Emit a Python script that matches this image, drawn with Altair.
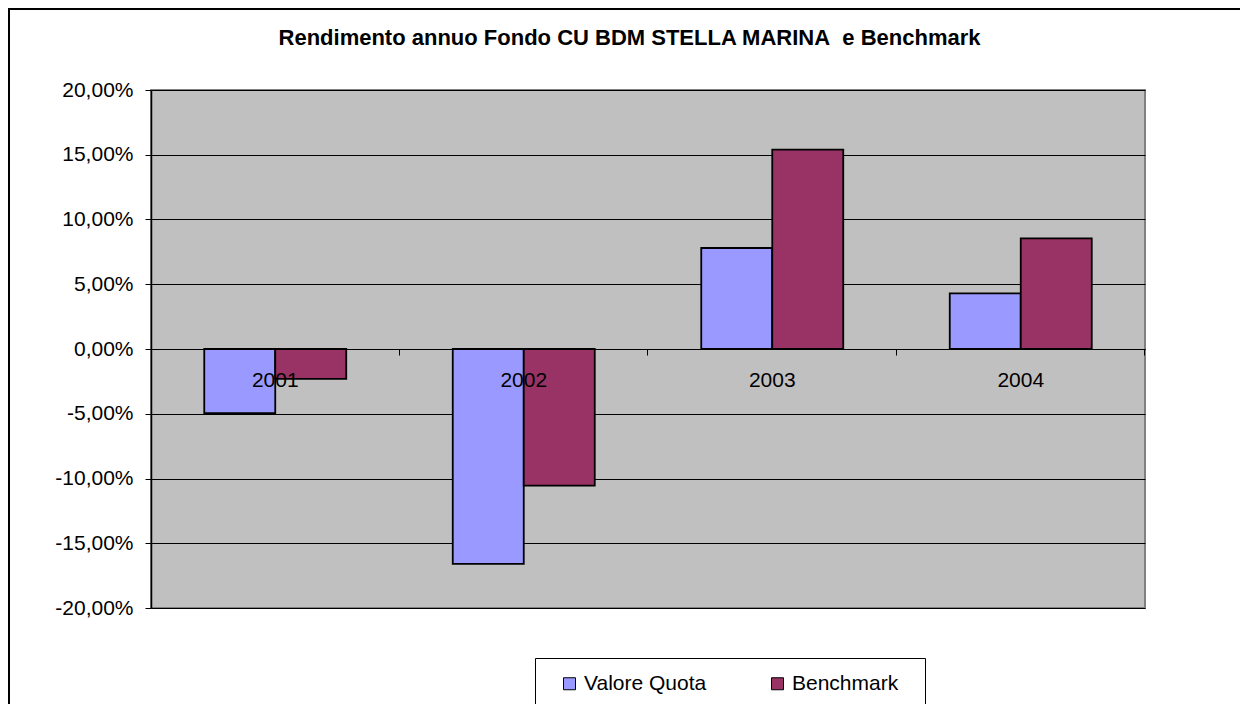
import altair as alt
import pandas as pd

# ---- data ----
years = ["2001", "2002", "2003", "2004"]
series = ["Valore Quota", "Benchmark"]
valore = [-0.0496, -0.166, 0.078, 0.043]
benchmark = [-0.023, -0.1055, 0.154, 0.0855]
colors = ["#9999FF", "#993366"]
y_ticks = [-0.20, -0.15, -0.10, -0.05, 0.0, 0.05, 0.10, 0.15, 0.20]
title_text = "Rendimento annuo Fondo CU BDM STELLA MARINA\u00a0 e Benchmark"

rows = []
for i, yr in enumerate(years):
    rows.append({"year": yr, "serie": series[0], "value": valore[i]})
    rows.append({"year": yr, "serie": series[1], "value": benchmark[i]})
df = pd.DataFrame(rows)

W, H = 994, 518
FONT = "Liberation Sans"
ylabel = "replace(replace(format(datum.value, '.2%'), '.', ','), '\u2212', '-')"

deco = pd.DataFrame({"k": [0]})

frame = alt.Chart(deco).mark_rect(filled=False, stroke="#000000", strokeWidth=2).encode(
    x=alt.value(-142), x2=alt.value(W + 300), y=alt.value(-81), y2=alt.value(H + 300)
)

legend_box = alt.Chart(deco).mark_rect(fill="#FFFFFF", stroke="#000000", strokeWidth=1).encode(
    x=alt.value(384.5), x2=alt.value(774.5), y=alt.value(568.5), y2=alt.value(H + 300)
)

bars = alt.Chart(df).mark_bar(stroke="black", strokeWidth=1.8, opacity=1).encode(
    x=alt.X(
        "year:N", sort=years,
        scale=alt.Scale(paddingInner=0.4286, paddingOuter=0.2143),
        axis=alt.Axis(
            title=None, orient="bottom", offset=-259, domain=True, domainColor="black",
            domainWidth=1, ticks=True, tickColor="black", tickSize=6, tickWidth=1,
            bandPosition=1.375, labelOffset=0, labelAngle=0, labelFont=FONT,
            labelFontSize=21, labelColor="black", labelPadding=14, labelBaseline="top",
            zindex=1, grid=False,
        ),
    ),
    xOffset=alt.XOffset("serie:N", sort=series, scale=alt.Scale(paddingInner=0, paddingOuter=0)),
    y=alt.Y(
        "value:Q",
        scale=alt.Scale(domain=[-0.2, 0.2], nice=False, zero=False),
        axis=alt.Axis(
            title=None, values=y_ticks, labelExpr=ylabel, grid=True, gridColor="black",
            gridWidth=1, domainColor="black", domainWidth=1.5, tickColor="black",
            tickSize=6, tickWidth=1, labelFont=FONT, labelFontSize=21, labelColor="black",
            labelPadding=12,
        ),
    ),
    color=alt.Color(
        "serie:N", sort=series,
        scale=alt.Scale(domain=series, range=colors),
        legend=alt.Legend(
            title=None, orient="none", legendX=408, legendY=583, direction="horizontal",
            symbolType="square", symbolSize=144, symbolStrokeColor="black",
            symbolStrokeWidth=1, symbolOpacity=1, labelFont=FONT, labelFontSize=21,
            labelColor="black", labelOffset=4, columnPadding=60, padding=0,
        ),
    ),
)

title_mark = alt.Chart(deco).mark_text(
    text=title_text, font=FONT, fontSize=22, fontWeight="bold",
    align="center", baseline="alphabetic", color="black",
).encode(x=alt.value(478.5), y=alt.value(-45))

chart = alt.layer(frame, legend_box, bars, title_mark).properties(
    width=W, height=H,
    autosize=alt.AutoSizeParams(type="none"),
    padding={"left": 143, "top": 82, "right": 95, "bottom": 96},
).configure(background="white").configure_view(
    fill="#C0C0C0", stroke="#808080", strokeWidth=2
)

chart.save("out.html", embed_options={"renderer": "svg", "actions": False})
